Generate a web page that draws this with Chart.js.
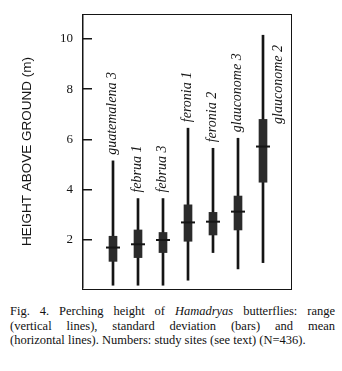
<!DOCTYPE html>
<html>
<head>
<meta charset="utf-8">
<script src="https://cdn.jsdelivr.net/npm/chart.js@4/dist/chart.umd.min.js"></script>
<style>
  html, body { margin: 0; padding: 0; background: #fff; }
  #wrap { position: relative; width: 342px; height: 371px; overflow: hidden; }
  #chart-box { position: absolute; left: 0; top: 0; width: 342px; height: 300px; }
  #frame {
    position: absolute; left: 82px; top: 14px; width: 209.5px; height: 275.5px;
    box-sizing: border-box; border: 1.5px solid #151515; pointer-events: none;
  }
  #caption {
    position: absolute; left: 10px; top: 304px; width: 325px;
    font-family: "Liberation Serif", "DejaVu Serif", serif;
    font-size: 12.5px; line-height: 14.5px; color: #111;
  }
  #caption div { text-align: justify; text-align-last: justify; white-space: nowrap; }
  #caption div.last { text-align: left; text-align-last: left; }
</style>
</head>
<body>
<div id="wrap">
  <div id="chart-box"><canvas id="perch-chart" width="342" height="300"></canvas></div>
  <div id="frame"></div>
  <div id="caption">
    <div>Fig. 4. Perching height of <i>Hamadryas</i> butterflies: range</div>
    <div>(vertical lines), standard deviation (bars) and mean</div>
    <div class="last">(horizontal lines). Numbers: study sites (see text) (N=436).</div>
  </div>
</div>
<script>
// study sites, left to right
const sites = ['guatemalena 3', 'februa 1', 'februa 3', 'feronia 1', 'feronia 2', 'glauconome 3', 'glauconome 2'];
// range (vertical lines)
const rangeMin = [0.2, 0.2, 0.2, 0.4, 1.5, 0.85, 1.1];
const rangeMax = [5.15, 3.65, 3.65, 6.45, 5.65, 6.05, 10.15];
// standard deviation (bars)
const sdLow = [1.15, 1.3, 1.5, 1.95, 2.2, 2.4, 4.3];
const sdHigh = [2.15, 2.4, 2.3, 3.4, 3.1, 3.75, 6.8];
// means (horizontal lines)
const means = [1.7, 1.83, 2.0, 2.7, 2.73, 3.13, 5.72];
const yTicks = [2, 4, 6, 8, 10];

const ink = '#151515';

// site names, rotated, above each range line
const siteLabelPlugin = {
    id: 'siteLabels',
    afterDatasetsDraw(chart) {
        const { ctx, chartArea: a } = chart;
        const xs = chart.scales.x;
        const ys = chart.scales.y;
        ctx.save();
        ctx.fillStyle = ink;
        ctx.font = 'italic 14px "Liberation Serif", "DejaVu Serif", serif';
        ctx.textBaseline = 'middle';
        sites.forEach((name, i) => {
            const x = xs.getPixelForValue(i);
            const yTop = ys.getPixelForValue(rangeMax[i]);
            const w = ctx.measureText(name).width;
            ctx.save();
            if (yTop - 6 - w > a.top + 4) {
                ctx.translate(x - 1, yTop - 6);
                ctx.rotate(-Math.PI / 2);
                ctx.textAlign = 'left';
                ctx.fillText(name, 0, 0);
            } else {
                // no room above the line: put it beside
                ctx.translate(x + 15, a.top + 30);
                ctx.rotate(-Math.PI / 2);
                ctx.textAlign = 'right';
                ctx.fillText(name, 0, 0);
            }
            ctx.restore();
        });
        ctx.restore();
    }
};

new Chart(document.getElementById('perch-chart').getContext('2d'), {
    type: 'bar',
    data: {
        datasets: [
            {
                type: 'scatter',
                label: 'mean',
                data: sites.map((s, i) => ({ x: i, y: means[i] })),
                pointStyle: 'line',
                pointRadius: 7,
                pointBorderWidth: 2,
                borderColor: ink,
                backgroundColor: ink,
                clip: false,
                order: 0
            },
            {
                label: 'sd',
                data: sites.map((s, i) => ({ x: i, y: [sdLow[i], sdHigh[i]] })),
                backgroundColor: '#2b2b2b',
                barThickness: 8,
                order: 1
            },
            {
                label: 'range',
                data: sites.map((s, i) => ({ x: i, y: [rangeMin[i], rangeMax[i]] })),
                backgroundColor: ink,
                barThickness: 2,
                order: 2
            }
        ]
    },
    options: {
        responsive: false,
        animation: false,
        devicePixelRatio: 1,
        layout: { padding: { left: 0, top: 15, right: 52, bottom: 12 } },
        plugins: { legend: { display: false }, tooltip: { enabled: false } },
        datasets: { bar: { grouped: false } },
        scales: {
            x: {
                type: 'linear',
                min: -1.2,
                max: 7.08,
                offset: false,
                display: false
            },
            y: {
                min: 0.09,
                max: 10.955,
                afterBuildTicks(scale) {
                    scale.ticks = yTicks.map(v => ({ value: v }));
                },
                afterFit(scale) {
                    scale.width = 83;
                    scale.paddingTop = 0;
                    scale.paddingBottom = 0;
                },
                border: { display: true, color: ink, width: 1.5 },
                grid: {
                    drawOnChartArea: false,
                    drawTicks: true,
                    tickLength: -9,
                    color: ink,
                    lineWidth: 1.5
                },
                ticks: {
                    color: ink,
                    padding: 19,
                    font: { family: '"Liberation Serif", "DejaVu Serif", serif', size: 13 }
                },
                title: {
                    display: true,
                    text: 'HEIGHT ABOVE GROUND (m)',
                    color: ink,
                    padding: { top: 19, bottom: 0 },
                    font: { family: '"Liberation Sans", Arial, sans-serif', size: 13.5, weight: 'normal' }
                }
            }
        }
    },
    plugins: [siteLabelPlugin]
});
</script>
</body>
</html>
